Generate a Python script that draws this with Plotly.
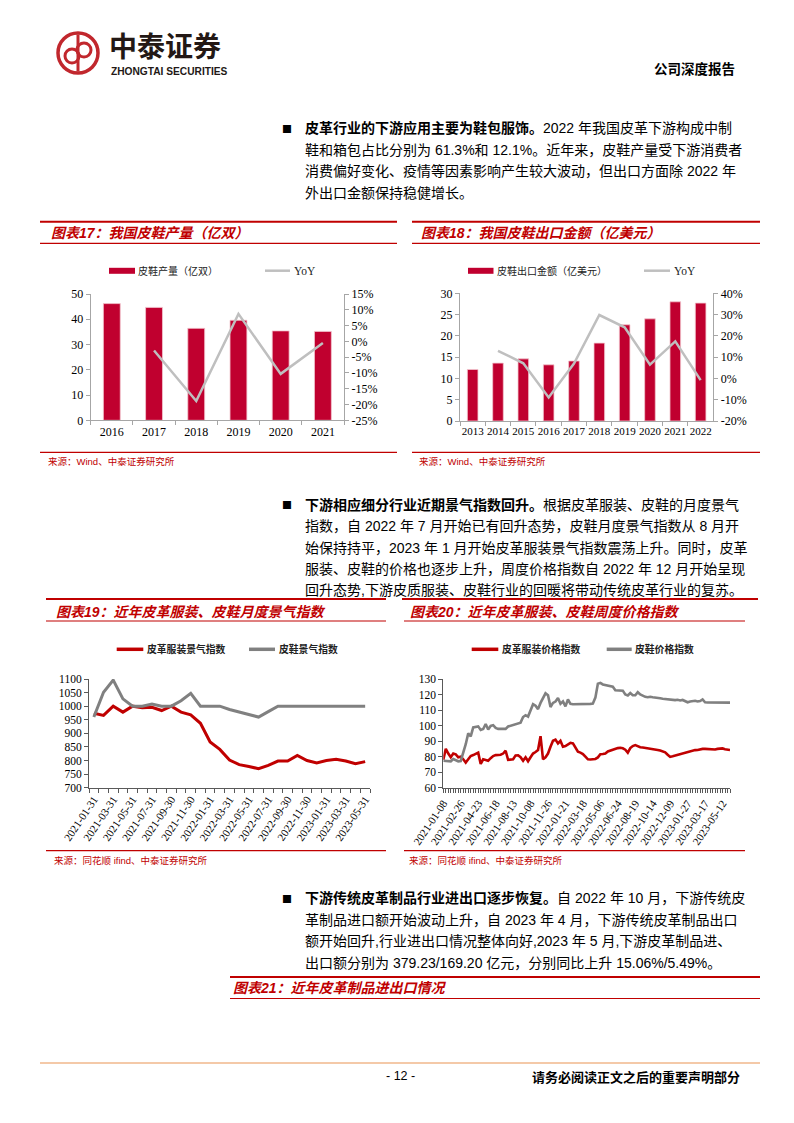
import plotly.graph_objects as go

# ---------------- data ----------------
# Chart 17: China leather shoe output (100m pairs) and YoY (%)
shoe_years = ["2016", "2017", "2018", "2019", "2020", "2021"]
shoe_output = [46.2, 44.7, 36.4, 39.6, 35.4, 35.2]
shoe_output_yoy = [None, -2.9, -18.9, 8.7, -10.3, -0.5]
output_left_ticks = [0, 10, 20, 30, 40, 50]
output_right_ticks = [-25, -20, -15, -10, -5, 0, 5, 10, 15]

# Chart 18: leather shoe export value (100m USD) and YoY (%)
export_years = ["2013", "2014", "2015", "2016", "2017", "2018", "2019", "2020", "2021", "2022"]
export_value = [12.1, 13.6, 14.6, 13.2, 14.1, 18.3, 22.6, 24.0, 28.0, 27.7]
export_yoy = [None, 13.0, 7.1, -8.9, 7.0, 29.8, 24.0, 6.5, 17.4, -0.8]
export_left_ticks = [0, 5, 10, 15, 20, 25, 30]
export_right_ticks = [-20, -10, 0, 10, 20, 30, 40]

# Chart 19: monthly climate indices
month_dates = ["2021-01-31", "2021-02-28", "2021-03-31", "2021-04-30", "2021-05-31", "2021-06-30",
               "2021-07-31", "2021-08-31", "2021-09-30", "2021-10-31", "2021-11-30", "2021-12-31",
               "2022-01-31", "2022-02-28", "2022-03-31", "2022-04-30", "2022-05-31", "2022-06-30",
               "2022-07-31", "2022-08-31", "2022-09-30", "2022-10-31", "2022-11-30", "2022-12-31",
               "2023-01-31", "2023-02-28", "2023-03-31", "2023-04-30", "2023-05-31"]
apparel_climate = [974, 966, 1000, 978, 1000, 994, 996, 984, 1000, 978, 968, 937, 868, 841, 802,
                   785, 778, 770, 782, 798, 798, 819, 800, 791, 800, 805, 798, 788, 796]
shoe_climate = [960, 1051, 1096, 1027, 1000, 1000, 1008, 1000, 1000, 1020, 1047, 1000, 1000, 1000,
                988, 979, 969, 960, 980, 1000, 1000, 1000, 1000, 1000, 1000, 1000, 1000, 1000, 1000]
climate_ticks = [700, 750, 800, 850, 900, 950, 1000, 1050, 1100]

# Chart 20: weekly price indices
apparel_price = [78.0, 85.0, 82.0, 79.6, 82.0, 81.5, 79.6, 80.0, 78.3, 76.2,
                 78.3, 80.4, 81.0, 81.7, 82.6, 75.3, 78.3, 77.9, 77.4, 79.0,
                 80.4, 81.0, 81.0, 81.2, 82.0, 83.8, 77.9, 78.3, 78.3, 80.8,
                 80.9, 79.6, 77.4, 79.6, 77.0, 79.6, 82.0, 83.0, 84.3, 93.2,
                 78.3, 79.6, 82.0, 86.4, 90.2, 91.0, 88.5, 90.2, 86.4, 86.8,
                 88.0, 88.9, 88.5, 86.0, 83.2, 82.6, 81.7, 80.0, 78.3, 78.2,
                 78.2, 78.5, 79.5, 81.5, 81.7, 82.0, 83.3, 83.8, 84.5, 85.3,
                 85.5, 85.7, 85.4, 84.5, 82.6, 85.5, 86.8, 87.4, 86.5, 86.1,
                 85.9, 85.7, 85.5, 85.3, 85.0, 84.6, 84.3, 83.9, 83.3, 82.8,
                 81.2, 79.8, 80.2, 80.7, 81.1, 81.5, 81.8, 82.5, 83.0, 83.5,
                 84.0, 84.2, 84.3, 84.7, 85.0, 85.0, 84.8, 84.6, 84.8, 84.6,
                 85.0, 85.1, 85.3, 84.8, 84.4, 84.3]
shoe_price = [77.4, 77.2, 77.0, 77.0, 78.5, 78.0, 77.0, 77.2, 82.0, 88.0,
              95.0, 93.0, 98.8, 99.3, 99.5, 97.2, 97.8, 101.0, 97.5, 99.8,
              100.3, 98.5, 97.9, 97.9, 97.8, 97.9, 99.4, 99.9, 100.5, 101.0,
              101.2, 101.9, 105.5, 106.7, 105.8, 109.9, 113.8, 112.8, 110.6, 114.6,
              118.0, 120.8, 119.5, 112.0, 114.6, 115.5, 117.7, 114.0, 115.6, 112.4,
              116.8, 114.0, 113.7, 113.7, 113.6, 113.6, 113.7, 114.0, 114.0, 114.0,
              114.2, 118.0, 127.0, 127.5, 126.5, 126.0, 125.8, 125.3, 125.0, 122.8,
              122.6, 122.6, 122.5, 120.0, 119.4, 121.0, 119.5, 119.5, 121.5, 120.0,
              119.0, 118.5, 118.3, 118.6, 118.3, 117.9, 117.8, 117.6, 117.3, 117.1,
              117.0, 116.6, 116.6, 116.4, 116.6, 116.2, 116.5, 115.8, 115.0, 115.5,
              115.8, 116.0, 115.5, 115.8, 116.8, 115.0, 114.9, 114.9, 114.9, 115.0,
              115.0, 115.2, 115.2, 115.0, 114.8, 114.8]
week_tick_labels = ["2021-01-08", "2021-02-26", "2021-04-23", "2021-06-18", "2021-08-13",
                    "2021-10-08", "2021-11-26", "2022-01-21", "2022-03-18", "2022-05-06",
                    "2022-06-24", "2022-08-19", "2022-10-14", "2022-12-09", "2023-01-27",
                    "2023-03-17", "2023-05-12"]
WEEKS_PER_LABEL = 7
price_ticks = [60, 70, 80, 90, 100, 110, 120, 130]

# ---------------- page geometry helpers ----------------
W, H = 794, 1123


def px(x):
    return x / W


def py(y):
    return 1 - y / H


RED = "#C00000"
BAR = "#C0002F"
YOY = "#BFBFBF"
GREY = "#808080"
CJK = "Liberation Sans, Noto Sans CJK SC, sans-serif"
SERIF = "Liberation Serif, Noto Sans CJK SC, serif"

shapes = []
annotations = []


def hline(x0, x1, y, color=RED, width=1.2):
    shapes.append(dict(type="line", xref="paper", yref="paper", x0=px(x0), x1=px(x1),
                       y0=py(y), y1=py(y), line=dict(color=color, width=width)))


def rect(x0, x1, y0, y1, color):
    shapes.append(dict(type="rect", xref="paper", yref="paper", x0=px(x0), x1=px(x1),
                       y0=py(y1), y1=py(y0), fillcolor=color, line=dict(width=0)))


def text(x, y, s, size, color="#000000", family=CJK, xanchor="left"):
    annotations.append(dict(xref="paper", yref="paper", x=px(x), y=py(y), text=s,
                            showarrow=False, xanchor=xanchor, yanchor="middle",
                            font=dict(size=size, color=color, family=family),
                            borderpad=0))


fig = go.Figure()

# ---------------- traces ----------------
fig.add_trace(go.Bar(x=shoe_years, y=shoe_output, xaxis="x", yaxis="y", width=0.4,
                     marker=dict(color=BAR, line=dict(color="#F3C6CF", width=0.8)),
                     showlegend=False))
fig.add_trace(go.Scatter(x=shoe_years, y=shoe_output_yoy, xaxis="x", yaxis="y2", mode="lines",
                         line=dict(color=YOY, width=2.5), showlegend=False))

fig.add_trace(go.Bar(x=export_years, y=export_value, xaxis="x2", yaxis="y3", width=0.42,
                     marker=dict(color=BAR, line=dict(color="#F3C6CF", width=0.8)),
                     showlegend=False))
fig.add_trace(go.Scatter(x=export_years, y=export_yoy, xaxis="x2", yaxis="y4", mode="lines",
                         line=dict(color=YOY, width=2.5), showlegend=False))

fig.add_trace(go.Scatter(x=month_dates, y=apparel_climate, xaxis="x3", yaxis="y5", mode="lines",
                         line=dict(color=RED, width=3), showlegend=False))
fig.add_trace(go.Scatter(x=month_dates, y=shoe_climate, xaxis="x3", yaxis="y5", mode="lines",
                         line=dict(color=GREY, width=3), showlegend=False))

week_index = list(range(len(apparel_price)))
fig.add_trace(go.Scatter(x=week_index, y=apparel_price, xaxis="x4", yaxis="y6", mode="lines",
                         line=dict(color=RED, width=2.6), showlegend=False))
fig.add_trace(go.Scatter(x=week_index, y=shoe_price, xaxis="x4", yaxis="y6", mode="lines",
                         line=dict(color=GREY, width=2.6), showlegend=False))

# ---------------- axes ----------------
AX_LIGHT = "#A6A6A6"
AX_DARK = "#595959"


def axis(color, font_size, **kw):
    d = dict(showline=True, linecolor=color, linewidth=1, ticks="outside", ticklen=4,
             tickcolor=color, tickwidth=1, showgrid=False, zeroline=False, automargin=False,
             tickfont=dict(family=SERIF, size=font_size, color="#000000"), fixedrange=True)
    d.update(kw)
    return d


layout_axes = dict(
    xaxis=axis(AX_LIGHT, 12, domain=[px(90.7), px(344)], anchor="y", type="category",
               tickson="boundaries", range=[-0.5, 5.5], tickangle=0),
    yaxis=axis(AX_LIGHT, 12, domain=[py(420.3), py(294)], anchor="x", range=[0, 50],
               tickvals=output_left_ticks),
    yaxis2=axis(AX_LIGHT, 12, overlaying="y", side="right", anchor="x", range=[-25, 15],
                tickvals=output_right_ticks,
                ticktext=[f"{v}%" for v in output_right_ticks]),
    xaxis2=axis(AX_LIGHT, 11, domain=[px(460), px(713.3)], anchor="y3", type="category",
                tickson="boundaries", range=[-0.5, 9.5], tickangle=0),
    yaxis3=axis(AX_LIGHT, 12, domain=[py(421), py(293.3)], anchor="x2", range=[0, 30],
                tickvals=export_left_ticks),
    yaxis4=axis(AX_LIGHT, 12, overlaying="y3", side="right", anchor="x2", range=[-20, 40],
                tickvals=export_right_ticks,
                ticktext=[f"{v}%" for v in export_right_ticks]),
    xaxis3=axis(AX_DARK, 11, domain=[px(89), px(370)], anchor="y5", type="category",
                tickson="boundaries", range=[-0.5, len(month_dates) - 0.5],
                tickmode="array", tickvals=month_dates,
                ticktext=[d if i % 2 == 0 else "" for i, d in enumerate(month_dates)],
                tickangle=-56),
    yaxis5=axis(AX_DARK, 11.5, domain=[py(787.7), py(679)], anchor="x3", range=[700, 1100],
                tickvals=climate_ticks),
    xaxis4=axis(AX_DARK, 11, domain=[px(443.3), px(730)], anchor="y6",
                range=[0, len(apparel_price) - 1],
                tickmode="array",
                tickvals=[i * WEEKS_PER_LABEL for i in range(len(week_tick_labels))],
                ticktext=week_tick_labels, tickangle=-56,
                minor=dict(ticks="outside", ticklen=4, tickcolor=AX_DARK, dtick=1, tick0=0,
                           showgrid=False)),
    yaxis6=axis(AX_DARK, 11.5, domain=[py(787.7), py(679)], anchor="x4", range=[60, 130],
                tickvals=price_ticks),
)

# ---------------- header ----------------
LOGO = "#C1272D"
shapes.append(dict(type="circle", xref="paper", yref="paper", x0=px(58), x1=px(98),
                   y0=py(73), y1=py(33), line=dict(color=LOGO, width=3.5)))
shapes.append(dict(type="circle", xref="paper", yref="paper", x0=px(65), x1=px(79),
                   y0=py(63), y1=py(49), line=dict(color=LOGO, width=3)))
shapes.append(dict(type="circle", xref="paper", yref="paper", x0=px(77), x1=px(91),
                   y0=py(57), y1=py(43), line=dict(color=LOGO, width=3)))
shapes.append(dict(type="line", xref="paper", yref="paper", x0=px(78), x1=px(78),
                   y0=py(34.5), y1=py(71.5), line=dict(color=LOGO, width=3)))
text(108, 45, "<b>中泰证券</b>", 28, "#231815", "Noto Sans CJK SC")
text(110, 71, "<b>ZHONGTAI SECURITIES</b>", 10.2, "#231815", "Liberation Sans")
text(736, 68, "<b>公司深度报告</b>", 13.5, "#000000", "Noto Sans CJK SC", xanchor="right")

# ---------------- body paragraphs ----------------
BODY = 14


def paragraph(y0, lines, step=21.5):
    text(281, y0, "■", 10, "#000000", "Noto Sans CJK SC")
    for i, ln in enumerate(lines):
        text(304, y0 + i * step, ln, BODY)


paragraph(128, [
    "<b>皮革行业的下游应用主要为鞋包服饰。</b>2022 年我国皮革下游构成中制",
    "鞋和箱包占比分别为 61.3%和 12.1%。近年来，皮鞋产量受下游消费者",
    "消费偏好变化、疫情等因素影响产生较大波动，但出口方面除 2022 年",
    "外出口金额保持稳健增长。",
])
paragraph(505, [
    "<b>下游相应细分行业近期景气指数回升。</b>根据皮革服装、皮鞋的月度景气",
    "指数，自 2022 年 7 月开始已有回升态势，皮鞋月度景气指数从 8 月开",
    "始保持持平，2023 年 1 月开始皮革服装景气指数震荡上升。同时，皮革",
    "服装、皮鞋的价格也逐步上升，周度价格指数自 2022 年 12 月开始呈现",
    "回升态势,下游皮质服装、皮鞋行业的回暖将带动传统皮革行业的复苏。",
], step=21.3)
paragraph(898, [
    "<b>下游传统皮革制品行业进出口逐步恢复。</b>自 2022 年 10 月，下游传统皮",
    "革制品进口额开始波动上升，自 2023 年 4 月，下游传统皮革制品出口",
    "额开始回升,行业进出口情况整体向好,2023 年 5 月,下游皮革制品进、",
    "出口额分别为 379.23/169.20 亿元，分别同比上升 15.06%/5.49%。",
])

# ---------------- chart frames ----------------
TITLE = 14


def frame(x0, x1, y_top, y_sub, y_title, title, tx, y_src=None, src=None, sx=None, sub_x0=None,
          sub_x1=None):
    hline(x0, x1, y_top, RED, 2)
    hline(sub_x0 if sub_x0 is not None else x0, sub_x1 if sub_x1 is not None else x1, y_sub,
          RED, 1.2)
    text(tx, y_title, f"<b><i>{title}</i></b>", TITLE, RED, "Liberation Sans, Noto Sans CJK SC")
    if y_src is not None:
        hline(sub_x0 if sub_x0 is not None else x0, sub_x1 if sub_x1 is not None else x1, y_src,
              RED, 1.2)
        text(sx, y_src + 9.5, src, 9.5, RED)


frame(40, 397, 221.7, 243.3, 233, "图表17：我国皮鞋产量（亿双）", 50,
      452.3, "来源：Wind、中泰证券研究所", 47)
frame(412, 760, 221.7, 243.3, 233, "图表18：我国皮鞋出口金额（亿美元）", 420,
      452.3, "来源：Wind、中泰证券研究所", 418)
frame(46, 386, 599, 621, 611.5, "图表19：近年皮革服装、皮鞋月度景气指数", 55,
      850.7, "来源：同花顺 ifind、中泰证券研究所", 53)
frame(402, 758, 599, 621, 611.5, "图表20：近年皮革服装、皮鞋周度价格指数", 409,
      850.7, "来源：同花顺 ifind、中泰证券研究所", 408, sub_x0=404, sub_x1=745)
frame(230, 760, 977, 998.5, 988, "图表21：近年皮革制品进出口情况", 232)

# ---------------- legends (drawn) ----------------
LEG = 10
rect(109, 135, 267.8, 273.8, BAR)
text(137, 270.7, "皮鞋产量（亿双）", LEG, "#222222")
hline(265, 290, 270.7, YOY, 2.5)
text(293, 270.7, "YoY", 11.5, "#222222", SERIF)

rect(468, 493.5, 267.8, 273.8, BAR)
text(496, 270.7, "皮鞋出口金额（亿美元）", LEG, "#222222")
hline(644, 670, 270.7, YOY, 2.5)
text(673, 270.7, "YoY", 11.5, "#222222", SERIF)

hline(116.7, 143.3, 649.3, RED, 3.5)
text(146, 649.3, "<b>皮革服装景气指数</b>", 9.8, "#222222")
hline(249, 275, 649.3, GREY, 3.5)
text(278, 649.3, "<b>皮鞋景气指数</b>", 9.8, "#222222")

hline(471.7, 498.3, 649.3, RED, 3.5)
text(501, 649.3, "<b>皮革服装价格指数</b>", 9.8, "#222222")
hline(606.7, 631.7, 649.3, GREY, 3.5)
text(634, 649.3, "<b>皮鞋价格指数</b>", 9.8, "#222222")

# ---------------- footer ----------------
hline(40, 760, 1063, "#F4C9A8", 2)
text(400, 1076, "- 12 -", 12.5, "#000000", "Liberation Sans", xanchor="center")
text(741, 1076, "<b>请务必阅读正文之后的重要声明部分</b>", 13, "#000000",
     "Noto Sans CJK SC", xanchor="right")

fig.update_layout(
    template="none",
    width=W, height=H, margin=dict(l=0, r=0, t=0, b=0, pad=0, autoexpand=False),
    paper_bgcolor="white", plot_bgcolor="rgba(0,0,0,0)",
    showlegend=False, shapes=shapes, annotations=annotations,
    font=dict(family=CJK), hovermode=False,
    **layout_axes,
)

fig.write_html("out.html", config={"displayModeBar": False, "staticPlot": True},
               post_script="document.body.style.margin='0';document.body.style.overflow='hidden';")
